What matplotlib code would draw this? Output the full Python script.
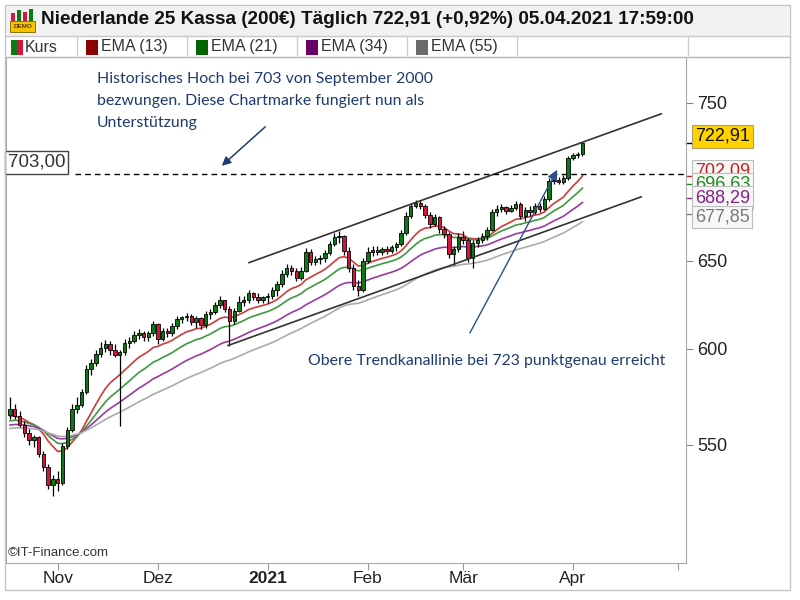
import numpy as np
import pandas as pd
import matplotlib
matplotlib.use('Agg')
import matplotlib.pyplot as plt
from matplotlib.patches import Rectangle
from matplotlib.transforms import blended_transform_factory

plt.rcParams['font.family'] = ['Liberation Sans', 'DejaVu Sans']

#%% data (Niederlande 25 Kassa, daily)
first_day = '2020-10-19'

opens = [564.9, 568.0, 564.4, 559.9, 555.8, 552.3, 553.8, 545.4, 539.1, 530.4,
         533.3, 531.4, 549.3, 557.3, 568.0, 570.0, 576.7, 588.9, 592.1, 597.4,
         600.7, 602.4, 599.6, 596.9, 598.5, 602.9, 604.5, 607.8, 608.9, 606.2,
         608.4, 613.4, 605.1, 610.0, 608.4, 612.3, 616.2, 617.3, 617.9, 614.5,
         616.8, 612.9, 619.0, 620.1, 624.6, 626.9, 621.8, 615.1, 621.2, 626.3,
         627.4, 630.9, 628.6, 627.4, 628.6, 629.2, 633.1, 636.6, 642.4, 645.9,
         644.1, 640.1, 644.1, 655.3, 649.4, 651.2, 651.8, 654.7, 660.1, 664.3,
         664.9, 655.9, 645.9, 635.4, 633.1, 650.0, 655.3, 656.5, 655.3, 657.1,
         655.9, 658.3, 660.1, 666.7, 677.0, 683.2, 685.0, 683.2, 677.6, 672.1,
         676.4, 669.1, 666.1, 654.1, 657.1, 664.3, 662.5, 651.8, 660.7, 662.5,
         664.9, 668.5, 679.5, 681.3, 682.5, 680.1, 681.9, 684.4, 677.0, 680.7,
         679.5, 683.2, 681.3, 687.5, 698.9, 699.5, 698.2, 700.7, 713.6, 715.5,
         716.3]
highs = [574.1, 570.5, 567.0, 561.9, 557.8, 554.8, 554.3, 546.9, 540.5, 535.2,
         537.1, 550.8, 558.8, 570.5, 574.1, 578.3, 591.1, 594.2, 599.6, 603.5,
         604.6, 604.0, 602.4, 599.6, 605.1, 606.7, 609.5, 610.6, 610.0, 609.5,
         615.1, 614.0, 611.7, 611.7, 614.0, 617.9, 618.4, 619.6, 619.0, 618.4,
         617.3, 620.7, 621.8, 626.3, 629.2, 627.4, 624.0, 622.9, 629.2, 629.7,
         633.1, 632.0, 630.9, 629.7, 630.9, 634.8, 638.3, 644.7, 648.2, 647.6,
         645.9, 646.4, 657.7, 657.1, 653.0, 653.5, 656.5, 661.9, 666.7, 667.9,
         665.5, 658.3, 648.2, 638.9, 651.8, 658.3, 658.9, 658.9, 658.3, 658.9,
         659.5, 661.3, 668.5, 679.5, 685.0, 686.9, 686.9, 684.4, 679.5, 678.2,
         677.0, 670.9, 667.3, 658.9, 666.7, 667.9, 663.7, 662.5, 664.3, 666.7,
         670.3, 681.3, 683.8, 684.4, 683.2, 683.8, 686.3, 685.7, 682.5, 683.2,
         685.0, 685.0, 689.4, 700.7, 702.0, 701.3, 702.6, 714.9, 716.8, 717.4,
         723.5]
lows = [562.9, 562.9, 558.8, 553.8, 549.8, 548.9, 544.0, 537.1, 528.5, 525.2,
        527.5, 530.4, 547.9, 556.3, 565.9, 569.0, 575.7, 585.7, 590.5, 595.3,
        598.5, 596.9, 595.3, 559.4, 596.9, 600.7, 602.9, 605.6, 604.0, 604.5,
        607.2, 602.4, 604.0, 606.7, 607.2, 611.1, 614.0, 615.1, 612.9, 611.7,
        610.6, 611.7, 616.2, 619.0, 622.9, 620.1, 601.3, 613.4, 620.1, 624.0,
        625.7, 626.9, 625.2, 625.2, 625.7, 628.0, 629.7, 634.8, 640.6, 641.8,
        638.3, 638.9, 643.5, 647.6, 647.6, 648.2, 649.4, 653.5, 658.9, 660.7,
        653.5, 643.5, 633.1, 629.2, 632.0, 648.8, 652.9, 653.5, 653.5, 654.1,
        654.7, 655.9, 658.9, 665.5, 675.8, 681.9, 681.3, 675.8, 669.7, 670.9,
        666.7, 663.7, 651.8, 647.6, 655.3, 660.1, 649.4, 645.9, 658.3, 660.7,
        662.5, 667.9, 677.0, 679.5, 678.2, 679.5, 680.7, 675.2, 674.0, 677.0,
        678.2, 679.5, 680.7, 686.3, 696.9, 696.9, 696.9, 699.5, 712.3, 713.6,
        714.9]
closes = [568.0, 564.4, 559.9, 555.8, 552.3, 553.8, 545.4, 539.1, 530.4, 533.3,
          531.4, 549.3, 557.3, 568.0, 570.0, 576.7, 588.9, 592.1, 597.4, 600.7,
          602.4, 599.6, 596.9, 598.5, 602.9, 604.5, 607.8, 608.9, 606.2, 608.4,
          613.4, 605.1, 610.0, 608.4, 612.3, 616.2, 617.3, 617.9, 614.5, 616.8,
          612.9, 619.0, 620.1, 624.6, 626.9, 621.8, 615.1, 621.2, 626.3, 627.4,
          630.9, 628.6, 627.4, 628.6, 629.2, 633.1, 636.6, 642.4, 645.9, 644.1,
          640.1, 644.1, 655.3, 649.4, 651.2, 651.8, 654.7, 660.1, 664.3, 664.9,
          655.9, 645.9, 635.4, 633.1, 650.0, 655.3, 656.5, 655.3, 657.1, 655.9,
          658.3, 660.1, 666.7, 677.0, 683.2, 685.0, 683.2, 677.6, 672.1, 676.4,
          669.1, 666.1, 654.1, 657.1, 664.3, 662.5, 651.8, 660.7, 662.5, 664.9,
          668.5, 679.5, 681.3, 682.5, 680.1, 681.9, 684.4, 677.0, 680.7, 679.5,
          683.2, 681.3, 687.5, 698.9, 699.5, 698.2, 700.7, 713.6, 715.5, 716.3,
          722.91]

ema_periods = [13, 21, 34, 55]
ema_start = [563.9, 561.5, 559.4, 557.8]      # EMA levels at the left edge
ema_last = [702.09, 696.63, 688.29, 677.85]
ema_last_txt = ['702,09', '696,63', '688,29', '677,85']
last_txt = '722,91'
last_val = 722.91

month_labels = ['Nov', 'Dez', '2021', 'Feb', 'Mär', 'Apr', '']
y_ticks = [550, 600, 650, 750]

level_703 = 703.0
level_703_from = 13.6                       # index where dashed line starts
chan_up_x, chan_up_y = [50.1, 136.5], [648.8, 742.6]
chan_lo_x, chan_lo_y = [45.7, 132.3], [601.8, 688.7]
arrow1 = [(53.5, 733.9), (44.4, 708.4)]     # tail, head
arrow2 = [(96.4, 608.7), (114.7, 705.8)]

note1 = 'Historisches Hoch bei 703 von September 2000\nbezwungen. Diese Chartmarke fungiert nun als\nUnterstützung'
note2 = 'Obere Trendkanallinie bei 723 punktgenau erreicht'
title = 'Niederlande 25 Kassa (200€) Täglich 722,91 (+0,92%) 05.04.2021 17:59:00'

#%% helpers
W, H = 800, 600
c_green, c_red = '#0b7a12', '#d3163f'
ema_colors = ['#cf3a3a', '#3d9a3d', '#9a3aa0', '#ababab']
leg_colors = ['#8b0000', '#006400', '#660066', '#6a6a6a']
lbl_colors = ['#c42020', '#1f8a1f', '#84208a', '#7a7a7a']
navy = '#1f3a6e'


def ema(vals, n, seed):
    a = 2.0 / (n + 1)
    e, out = seed, []
    for v in vals:
        e = e + a * (v - e)
        out.append(e)
    return np.array(out)


fig = plt.figure(figsize=(8, 6), dpi=100)


def prect(x, y, w, h, **kw):
    fig.patches.append(Rectangle((x / W, 1 - (y + h) / H), w / W, h / H,
                                 transform=fig.transFigure, **kw))


def pline(x0, y0, x1, y1, **kw):
    fig.lines.append(plt.Line2D([x0 / W, x1 / W], [1 - y0 / H, 1 - y1 / H],
                                transform=fig.transFigure, **kw))


# frame, title bar, legend row
prect(5, 5, 785, 585, fill=False, ec='#c4c4c4', lw=1)
prect(6, 6, 783, 30, fc='#f1f1f1', ec='none')
pline(6, 36, 789, 36, color='#c8c8c8', lw=1)
pline(6, 57, 789, 57, color='#b4b4b4', lw=1)
for xb in [77, 187, 297, 407, 517, 688]:
    pline(xb, 37, xb, 57, color='#cdcdcd', lw=1)

# demo icon
prect(11, 13, 4, 8, fc=c_red, ec='none')
prect(17, 10, 4, 11, fc=c_green, ec='none')
prect(23, 12, 4, 9, fc=c_red, ec='none')
prect(29, 9, 4, 12, fc=c_green, ec='none')
prect(10, 21, 25, 11, fc='#f4c400', ec='#7a6000', lw=0.6)
fig.text(22.5 / W, 1 - 26.5 / H, 'DEMO', fontsize=4.6, fontweight='bold',
         color='#5a3a00', ha='center', va='center')
fig.text(41 / W, 1 - 20 / H, title, fontsize=13.6, fontweight='bold',
         va='center', color='#111111')

prect(11, 40, 6, 15, fc=c_green, ec='none')
prect(17, 40, 6, 15, fc=c_red, ec='none')
fig.text(25 / W, 1 - 47 / H, 'Kurs', fontsize=11.5, va='center', color='#333333')
for k, xs in enumerate([86, 196, 306, 416]):
    prect(xs, 40, 12, 15, fc=leg_colors[k], ec='none')
    fig.text((xs + 15) / W, 1 - 47 / H, 'EMA (%d)' % ema_periods[k],
             fontsize=11.5, va='center', color='#333333')

#%% main axes
ax = fig.add_axes([6 / W, 1 - 563 / H, 680 / W, 505 / H])
ax.set_yscale('log')
ax.set_xlim(-0.84, 141.7)
ax.set_ylim(494.0, 781.2)

o, hi, lo, c = map(np.array, (opens, highs, lows, closes))
x = np.arange(len(c))

for k, n in enumerate(ema_periods):
    ax.plot(x, ema(c, n, ema_start[k]), color=ema_colors[k], lw=1.2, zorder=2)

ax.vlines(x, lo, hi, color='black', lw=0.9, zorder=3)
body_lo = np.minimum(o, c)
body_h = np.maximum(np.abs(c - o), 0.15)
cols = np.where(c >= o, c_green, c_red)
ax.bar(x, body_h, bottom=body_lo, width=0.72, color=cols, edgecolor='black',
       linewidth=0.6, zorder=4)

# trend channel and 703 level
ax.plot(chan_up_x, chan_up_y, color='#333333', lw=1.2, zorder=5)
ax.plot(chan_lo_x, chan_lo_y, color='#333333', lw=1.2, zorder=5)
ax.hlines(level_703, level_703_from, 141.7, color='black', lw=1,
          linestyles=(0, (4, 3)), zorder=5)
ax.annotate('703,00', xy=(0, level_703), xycoords=('axes fraction', 'data'),
            xytext=(2, 12), textcoords='offset pixels', fontsize=13.5,
            color='#333333', va='center', ha='left',
            bbox=dict(boxstyle='square,pad=0.15', fc='white', ec='#444444', lw=1))

ax.annotate('', xy=arrow1[1], xytext=arrow1[0],
            arrowprops=dict(arrowstyle='-|>', color=navy, lw=1.1,
                            mutation_scale=13, shrinkA=0, shrinkB=0), zorder=6)
ax.annotate('', xy=arrow2[1], xytext=arrow2[0],
            arrowprops=dict(arrowstyle='-|>', color='#2c4f8a', lw=1.0,
                            mutation_scale=15, shrinkA=0, shrinkB=0), zorder=6)

note_font = ['Lato', 'DejaVu Sans']
fig.text(97 / W, 1 - 72 / H, note1, fontsize=11.4, color=navy, va='top',
         ha='left', linespacing=1.72, family=note_font)
fig.text(308 / W, 1 - 361 / H, note2, fontsize=11.4, color=navy, va='center',
         ha='left', family=note_font)
fig.text(8 / W, 1 - 553 / H, '©IT-Finance.com', fontsize=9.5, color='#333333',
         va='center', ha='left')

# axes styling
ax.spines['top'].set_visible(False)
for s in ['left', 'right', 'bottom']:
    ax.spines[s].set_color('#a8a8a8')
ax.yaxis.tick_right()
ax.yaxis.set_major_locator(matplotlib.ticker.FixedLocator(y_ticks))
ax.yaxis.set_minor_locator(matplotlib.ticker.NullLocator())
ax.yaxis.set_major_formatter(matplotlib.ticker.FormatStrFormatter('%d'))
ax.tick_params(axis='y', which='major', length=5, color='#888888',
               labelsize=13, labelcolor='#222222', pad=3)

dates = pd.bdate_range(first_day, periods=145)
month_pos = [i for i in range(1, len(dates)) if dates[i].month != dates[i - 1].month]
ax.set_xticks(month_pos)
ax.set_xticklabels(month_labels[:len(month_pos)])
ax.tick_params(axis='x', length=5, color='#999999', labelsize=12.5,
               labelcolor='#222222', pad=1)
for t in ax.get_xticklabels():
    if t.get_text() == '2021':
        t.set_fontweight('bold')

# last-value markers on the right scale
tr = blended_transform_factory(ax.transAxes, ax.transData)
ax.plot([1.0, 1.012], [last_val] * 2, color='black', lw=1, transform=tr, clip_on=False)
ax.annotate(last_txt, xy=(1.0, last_val), xycoords=tr, xytext=(9, 7),
            textcoords='offset pixels', fontsize=13, va='center', color='#111111',
            bbox=dict(boxstyle='square,pad=0.15', fc='#ffd200', ec='#b0a060', lw=0.8),
            annotation_clip=False)
shift = [4.5, 0, 0, -2.5]
for k in range(4):
    ax.plot([1.0, 1.012], [ema_last[k]] * 2, color=lbl_colors[k], lw=1,
            transform=tr, clip_on=False)
    ax.annotate(ema_last_txt[k], xy=(1.0, ema_last[k]), xycoords=tr,
                xytext=(9, shift[k]), textcoords='offset pixels', fontsize=13,
                va='center', color=lbl_colors[k], zorder=10 + k,
                bbox=dict(boxstyle='square,pad=0.15', fc='#f7f7f7', ec='#bdbdbd', lw=0.8),
                annotation_clip=False)

fig.savefig('out.png', dpi=100, facecolor='white')
